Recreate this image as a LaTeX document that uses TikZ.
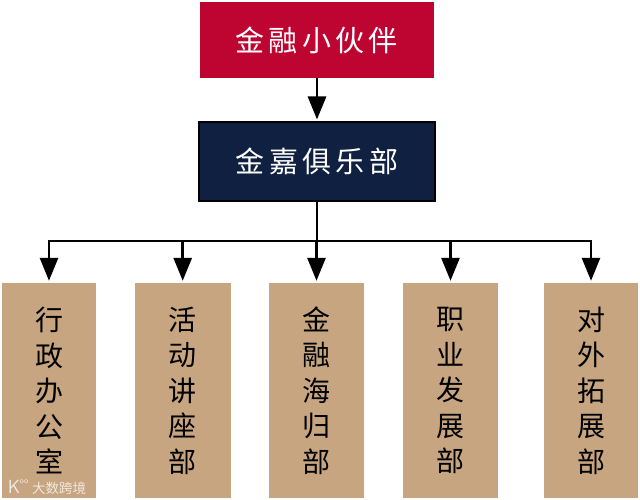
\documentclass[tikz,border=0pt]{standalone}
\usepackage{fontspec}
\newfontfamily\cjk{Noto Sans CJK SC}
\newfontfamily\cjkwide[LetterSpace=15]{Noto Sans CJK SC}
\usetikzlibrary{arrows.meta}
\definecolor{redbox}{RGB}{190,5,50}
\definecolor{navybox}{RGB}{15,32,64}
\definecolor{tan}{RGB}{198,165,128}
\tikzset{
  toptext/.style={font=\fontsize{29}{34}\selectfont\cjkwide, text=white, inner sep=0pt},
  topbox/.style={toptext, anchor=north west, fill=redbox, minimum width=234pt, minimum height=76.5pt},
  clubbox/.style={toptext, fill=navybox, draw=black, line width=2pt, minimum width=236pt, minimum height=78pt},
  deptbox/.style={font=\fontsize{28}{35.5}\selectfont\cjk, text=black, fill=tan, align=center, inner sep=0pt, minimum height=215pt},
  wire/.style={draw=black, line width=2.8pt},
  arrowwire/.style={wire, -{Triangle[width=18pt,length=23pt]}, shorten >=2pt},
  marktext/.style={text=white, opacity=0.75, inner sep=0pt},
}
\begin{document}
\begin{tikzpicture}[x=1pt,y=-1pt]
\useasboundingbox (0,0) rectangle (640,500);
\fill[white] (0,0) rectangle (640,500);
\node[topbox] (top) at (199.5,1.5) {金融小伙伴};
\node[clubbox] (club) at (317,161.5) {金嘉俱乐部};
\node[deptbox, minimum width=94pt] (d1) at (49,390.5) {行\\政\\办\\公\\室};
\node[deptbox, minimum width=96pt] (d2) at (182.7,390.5) {活\\动\\讲\\座\\部};
\node[deptbox, minimum width=95pt] (d3) at (316.5,390.5) {金\\融\\海\\归\\部};
\node[deptbox, minimum width=95pt] (d4) at (450.5,390.5) {职\\业\\发\\展\\部};
\node[deptbox, minimum width=94pt] (d5) at (591,390.5) {对\\外\\拓\\展\\部};
\node[marktext, font=\fontsize{13.5}{15}\selectfont\cjk] (mark) at (59,488) {大数跨境};
\node[marktext, font=\fontsize{19}{15}\selectfont\sffamily] (logo) at (14,487) {K};
\node[marktext, font=\fontsize{8}{9}\selectfont\sffamily] (logodots) at (24,482) {oo};
\coordinate (bus) at (317,241);
\draw[arrowwire] (top.south -| club.north) -- (club.north);
\draw[wire] (club.south) -- (club.south |- bus);
\draw[wire, line cap=rect] (d1.north |- bus) -- (d5.north |- bus);
\foreach \d in {d1,d2,d3,d4,d5}
  \draw[arrowwire] (\d.north |- bus) -- (\d.north);
\end{tikzpicture}
\end{document}
